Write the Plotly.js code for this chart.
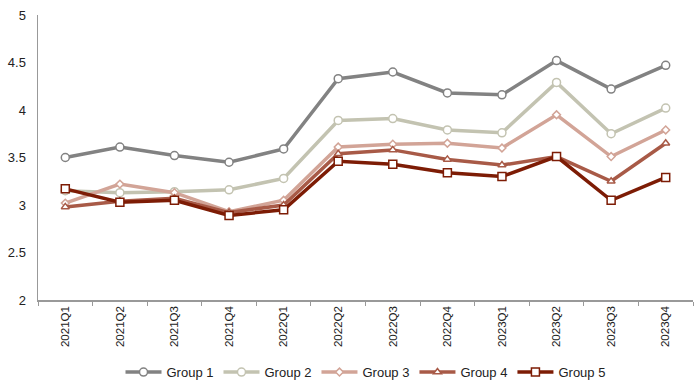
<!DOCTYPE html>
<html><head><meta charset="utf-8">
<script src="https://cdn.plot.ly/plotly-3.0.1.min.js"></script>
<style>html,body{margin:0;padding:0;background:#fff}#chart{width:700px;height:389px}</style>
</head><body><div id="chart"></div>
<script>
const categories = ["2021Q1","2021Q2","2021Q3","2021Q4","2022Q1","2022Q2","2022Q3","2022Q4","2023Q1","2023Q2","2023Q3","2023Q4"];
const group1 = [3.50,3.61,3.52,3.45,3.59,4.33,4.40,4.18,4.16,4.52,4.22,4.47];
const group2 = [3.15,3.13,3.14,3.16,3.28,3.89,3.91,3.79,3.76,4.29,3.75,4.02];
const group3 = [3.02,3.22,3.13,2.93,3.05,3.61,3.64,3.65,3.60,3.95,3.51,3.79];
const group4 = [2.98,3.04,3.07,2.92,3.00,3.54,3.58,3.48,3.42,3.51,3.25,3.65];
const group5 = [3.17,3.03,3.05,2.89,2.95,3.46,3.43,3.34,3.30,3.51,3.05,3.29];
const names = ["Group 1","Group 2","Group 3","Group 4","Group 5"];

const series = [group1,group2,group3,group4,group5];
const colors = ["#828282","#c3c3b1","#d2a497","#a85a47","#7d1c05"];
const symbols = ["circle","circle","diamond","triangle-up","square"];
const sizes = [8,8,6,7,8];

const traces = series.map((s,i)=>({
  x: categories, y: s, name: names[i], type:'scatter', mode:'lines+markers',
  line:{color:colors[i], width:3.5},
  marker:{symbol:symbols[i], size:sizes[i], color:'#ffffff', line:{color:colors[i], width:1.5}}
}));

const layout = {
  width:700, height:389,
  margin:{l:38, r:7, t:15, b:89, autoexpand:false},
  paper_bgcolor:'#fff', plot_bgcolor:'#fff',
  font:{family:'Liberation Sans, Arial, sans-serif', size:12, color:'#222'},
  showlegend:true,
  legend:{orientation:'h', x:0.5, xanchor:'center', y:-0.253, yanchor:'middle', font:{size:13}, itemwidth:36, tracegroupgap:0},
  xaxis:{type:'category', range:[-0.5,11.5], tickangle:-90, tickson:'boundaries', ticks:'outside', ticklen:4, tickcolor:'#999',
    showline:true, linecolor:'#999', linewidth:1.5, showgrid:false, zeroline:false, tickfont:{size:11.5}, automargin:false},
  yaxis:{range:[2,5], dtick:0.5, showline:true, linecolor:'#999', linewidth:1.5, showgrid:false, zeroline:false,
    ticks:'', tickfont:{size:13}, ticklabelstandoff:8, automargin:false}
};
Plotly.newPlot('chart', traces, layout, {displayModeBar:false, staticPlot:true});
</script></body></html>
